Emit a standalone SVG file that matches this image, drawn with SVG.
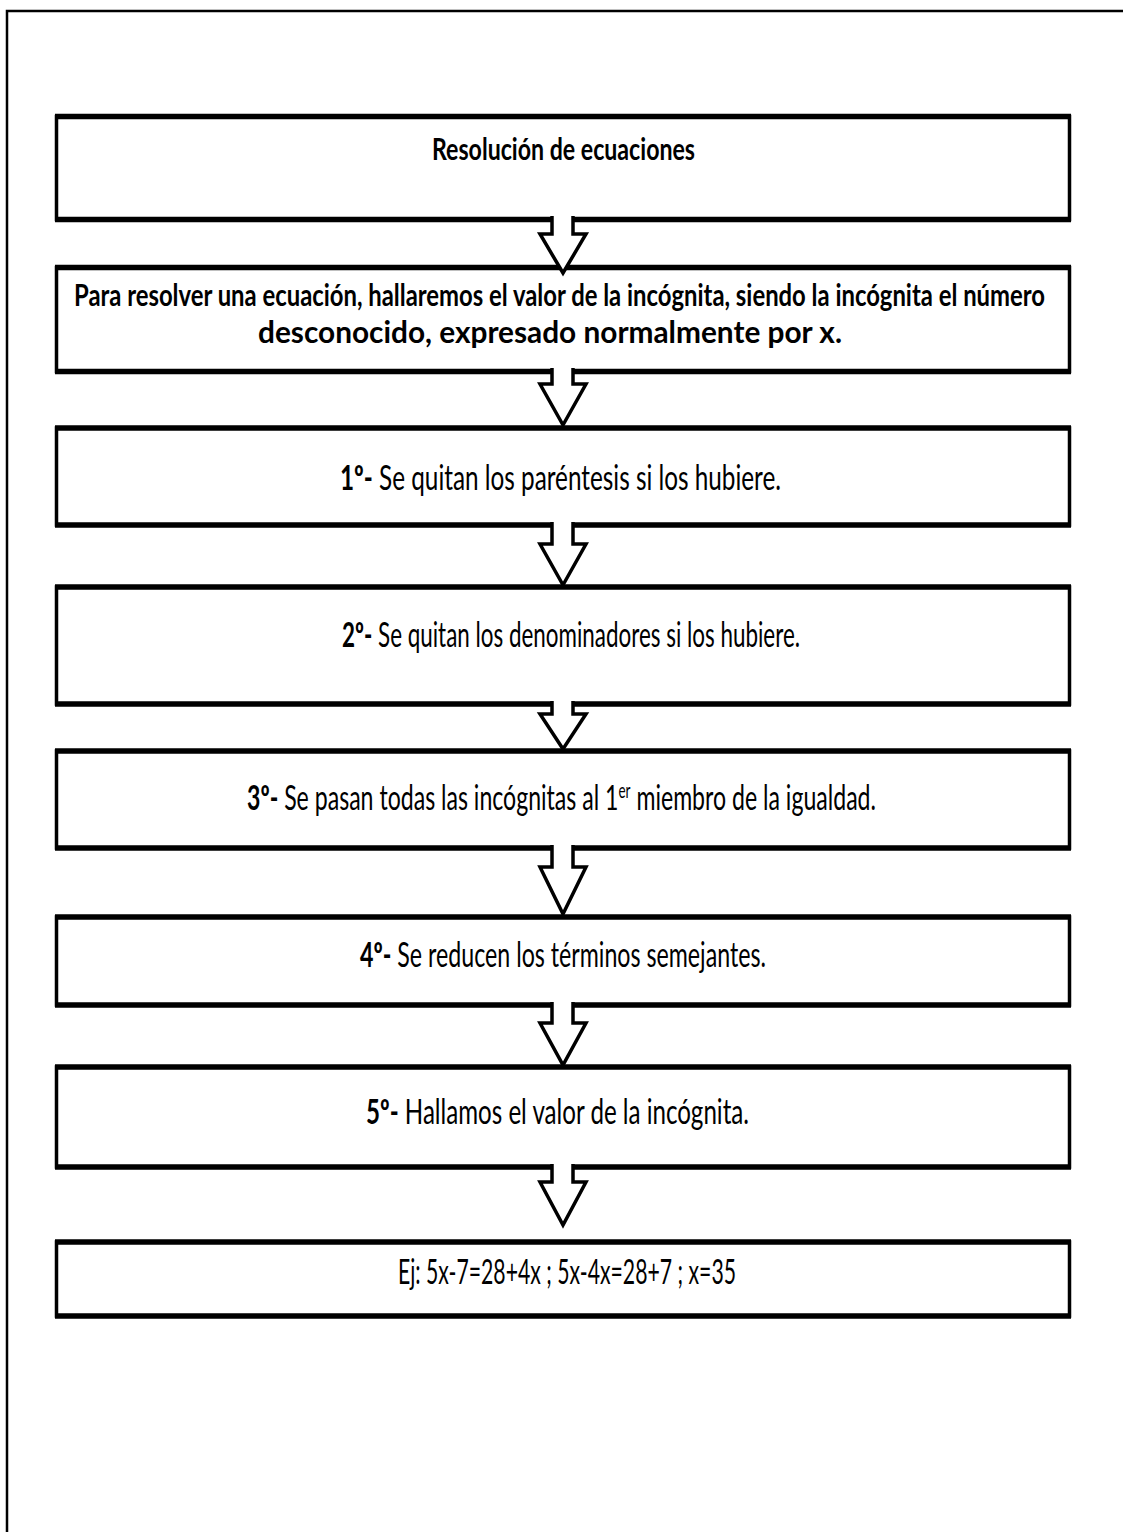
<svg xmlns="http://www.w3.org/2000/svg" width="1123" height="1532" viewBox="0 0 1123 1532">
<style>
.frame{fill:none;stroke:#000;stroke-width:2.5}
.bx{fill:#fff;stroke:#000;stroke-width:3.5}
.hl{fill:none;stroke:#000;stroke-width:5.5}
.ar{fill:#fff;stroke:#000;stroke-width:3.5;stroke-linejoin:miter}
text{font-family:Lato,"Liberation Sans","Noto Sans",sans-serif;fill:#000}
.b{font-weight:bold;font-size:23px}
.s{font-size:24px}
.sb{font-weight:bold}
.sup{font-size:14px}
</style>
<rect width="1123" height="1532" fill="#fff"/>
<path class="frame" d="M7,1532 V11 H1123"/>
<g id="n1">
<rect class="bx" x="56.5" y="116.5" width="1013" height="103"/>
<path class="hl" d="M55,116.5 H1071 M55,219.5 H1071"/>
<text class="b" transform="translate(432,160) scale(1,1.32)" x="0" y="0" textLength="263" lengthAdjust="spacingAndGlyphs">Resolución de ecuaciones</text>
</g>
<g id="n2">
<rect class="bx" x="56.5" y="267.5" width="1013" height="104"/>
<path class="hl" d="M55,267.5 H1071 M55,371.5 H1071"/>
<text class="b" transform="translate(74,306) scale(1,1.32)" x="0" y="0" textLength="971" lengthAdjust="spacingAndGlyphs">Para resolver una ecuación, hallaremos el valor de la incógnita, siendo la incógnita el número</text>
<text class="b" transform="translate(258,343) scale(1,1.32)" x="0" y="0" textLength="584" lengthAdjust="spacingAndGlyphs">desconocido, expresado normalmente por x.</text>
</g>
<g id="n3">
<rect class="bx" x="56.5" y="428" width="1013" height="97"/>
<path class="hl" d="M55,428 H1071 M55,525 H1071"/>
<text class="s" transform="translate(340,490) scale(1,1.45)" x="0" y="0" textLength="441" lengthAdjust="spacingAndGlyphs"><tspan class="sb">1º-</tspan> Se quitan los paréntesis si los hubiere.</text>
</g>
<g id="n4">
<rect class="bx" x="56.5" y="587" width="1013" height="117"/>
<path class="hl" d="M55,587 H1071 M55,704 H1071"/>
<text class="s" transform="translate(342,647) scale(1,1.45)" x="0" y="0" textLength="458" lengthAdjust="spacingAndGlyphs"><tspan class="sb">2º-</tspan> Se quitan los denominadores si los hubiere.</text>
</g>
<g id="n5">
<rect class="bx" x="56.5" y="751" width="1013" height="97"/>
<path class="hl" d="M55,751 H1071 M55,848 H1071"/>
<text class="s" transform="translate(247,810) scale(1,1.45)" x="0" y="0" textLength="629" lengthAdjust="spacingAndGlyphs"><tspan class="sb">3º-</tspan> Se pasan todas las incógnitas al 1<tspan class="sup" dy="-8">er</tspan><tspan dy="8"> miembro de la igualdad.</tspan></text>
</g>
<g id="n6">
<rect class="bx" x="56.5" y="917" width="1013" height="88"/>
<path class="hl" d="M55,917 H1071 M55,1005 H1071"/>
<text class="s" transform="translate(360,967) scale(1,1.45)" x="0" y="0" textLength="406" lengthAdjust="spacingAndGlyphs"><tspan class="sb">4º-</tspan> Se reducen los términos semejantes.</text>
</g>
<g id="n7">
<rect class="bx" x="56.5" y="1067" width="1013" height="100"/>
<path class="hl" d="M55,1067 H1071 M55,1167 H1071"/>
<text class="s" transform="translate(366,1124) scale(1,1.45)" x="0" y="0" textLength="383" lengthAdjust="spacingAndGlyphs"><tspan class="sb">5º-</tspan> Hallamos el valor de la incógnita.</text>
</g>
<g id="n8">
<rect class="bx" x="56.5" y="1242" width="1013" height="74"/>
<path class="hl" d="M55,1242 H1071 M55,1316 H1071"/>
<text class="s" transform="translate(398,1284) scale(1,1.45)" x="0" y="0" textLength="338" lengthAdjust="spacingAndGlyphs">Ej: 5x-7=28+4x ; 5x-4x=28+7 ; x=35</text>
</g>
<g id="connectors">
<path class="ar" d="M552,216 V234 H540 L563,273 L586,234 H573 V216"/>
<path class="ar" d="M552,368 V384 H540 L563,425 L586,384 H573 V368"/>
<path class="ar" d="M552,522 V544 H540 L563,585 L586,544 H573 V522"/>
<path class="ar" d="M552,701 V714 H540 L563,749 L586,714 H573 V701"/>
<path class="ar" d="M552,845 V867 H540 L563,914 L586,867 H573 V845"/>
<path class="ar" d="M552,1002 V1023 H540 L563,1065 L586,1023 H573 V1002"/>
<path class="ar" d="M552,1164 V1182 H540 L563,1225 L586,1182 H573 V1164"/>
</g>
</svg>
